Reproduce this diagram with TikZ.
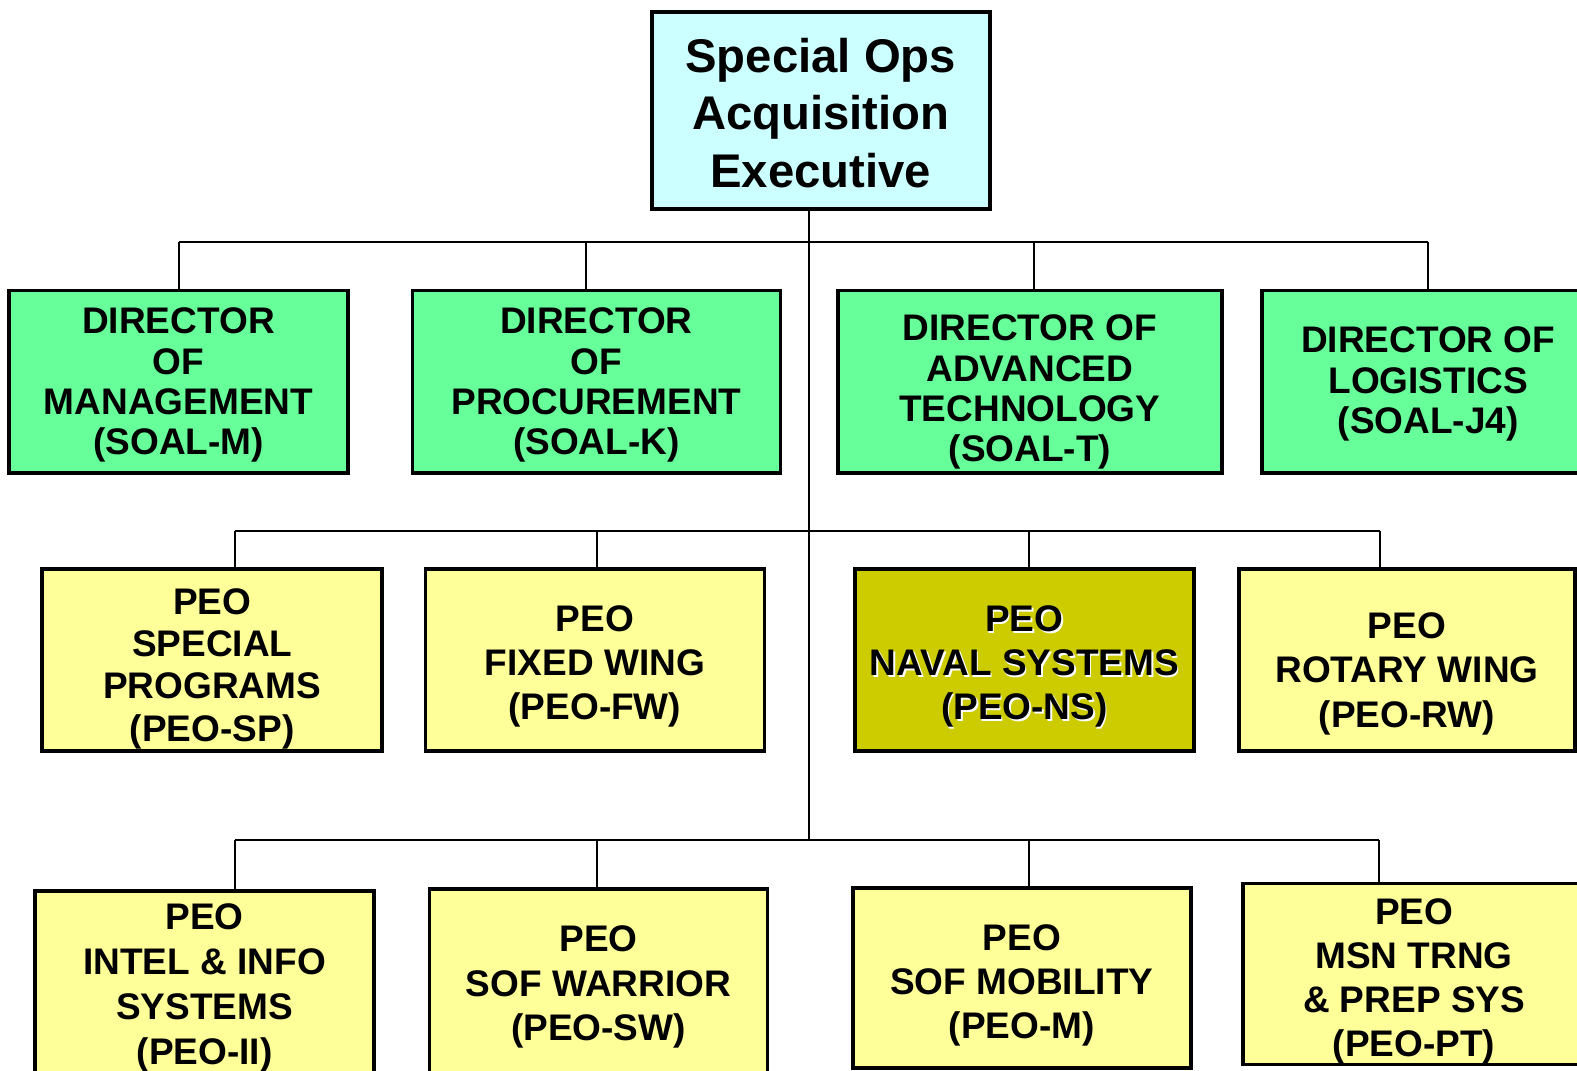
\documentclass[tikz,border=0pt]{standalone}
\usepackage{fontspec}
\setmainfont{Liberation Sans}
\definecolor{topfill}{HTML}{CCFFFF}
\definecolor{dirfill}{HTML}{66FF99}
\definecolor{peofill}{HTML}{FFFF99}
\definecolor{navfill}{HTML}{CCCC00}
\newcommand\myshift[1]{\vrule width0pt height\dimexpr 13.2pt+#1pt\relax}
\newcommand\myshiftbig[1]{\vrule width0pt height\dimexpr 17.2pt+#1pt\relax}
\begin{document}
\begin{tikzpicture}[x=0.5pt,y=-0.5pt,
  box/.style={draw=black, line width=1.8pt, inner sep=0pt, align=center,
    font=\fontsize{18.4pt}{20pt}\selectfont\bfseries},
  dirbox/.style={box, fill=dirfill, minimum height=90.5pt},
  peobox/.style={box, fill=peofill, minimum height=90.5pt,
    font=\fontsize{18.4pt}{22pt}\selectfont\bfseries},
  lowbox/.style={box, fill=peofill,
    font=\fontsize{18.4pt}{22pt}\selectfont\bfseries},
  topbox/.style={box, fill=topfill, line width=2pt,
    font=\fontsize{23.5pt}{28.5pt}\selectfont\bfseries},
  conn/.style={draw=black, line width=1pt},
  plain/.style={inner sep=0pt, align=center,
    font=\fontsize{18.4pt}{22pt}\selectfont\bfseries}
]
\useasboundingbox (0,0) rectangle (1568,1064);
\clip (0,0) rectangle (1568,1064);

% bus junctions
\coordinate (j1) at (804,241);
\coordinate (j2) at (804,528);
\coordinate (j3) at (804,835);

% top box and trunk
\node[topbox, minimum width=168pt, minimum height=98pt] (top) at (816,110)
  {\myshiftbig{2}Special Ops\\Acquisition\\Executive};
\draw[conn] (top.south -| j1) -- (j3);
\coordinate (b1l) at (178,241);
\coordinate (b1r) at (1420,241);
\draw[conn] (b1l) -- (b1r);
\coordinate (b2l) at (234,528);
\coordinate (b2r) at (1372,528);
\draw[conn] (b2l) -- (b2r);
\coordinate (b3l) at (234,835);
\coordinate (b3r) at (1371,835);
\draw[conn] (b3l) -- (b3r);

% directors
\node[dirbox, minimum width=168.5pt] (d1) at (177.5,379.5)
  {\myshift{3}DIRECTOR\\OF\\MANAGEMENT\\(SOAL-M)};
\node[dirbox, minimum width=183pt] (d2) at (593,379.5)
  {\myshift{3}DIRECTOR\\OF\\PROCUREMENT\\(SOAL-K)};
\node[dirbox, minimum width=191pt] (d3) at (1024,379.5)
  {\myshift{10}DIRECTOR OF\\ADVANCED\\TECHNOLOGY\\(SOAL-T)};
\node[dirbox, minimum width=165pt] (d4) at (1420,379.5)
  {\myshift{2}DIRECTOR OF\\LOGISTICS\\(SOAL-J4)};

\draw[conn] (b1l) -- (d1.north -| b1l);
\coordinate (k2) at (583,241);
\draw[conn] (k2) -- (d2.north -| k2);
\coordinate (k3) at (1028,241);
\draw[conn] (k3) -- (d3.north -| k3);
\draw[conn] (b1r) -- (d4.north -| b1r);

% PEO row 1
\node[peobox, minimum width=169pt, font=\fontsize{18.4pt}{21pt}\selectfont\bfseries] (p1) at (211,656.5)
  {\myshift{8}PEO\\SPECIAL\\PROGRAMS\\(PEO-SP)};
\node[peobox, minimum width=168.5pt] (p2) at (591.5,656.5)
  {\myshift{6}PEO\\FIXED WING\\(PEO-FW)};
\node[box, fill=navfill, minimum width=168.5pt, minimum height=90.5pt] (p3) at (1018.5,656.5) {};
\node[plain, text=white] (p3s) at ([shift={(1.6,1.6)}]p3.center)
  {\myshift{6}PEO\\NAVAL SYSTEMS\\(PEO-NS)};
\node[plain] (p3t) at (p3.center)
  {\myshift{6}PEO\\NAVAL SYSTEMS\\(PEO-NS)};
\node[peobox, minimum width=167pt] (p4) at (1399,656.5)
  {\myshift{13}PEO\\ROTARY WING\\(PEO-RW)};

\coordinate (m1) at (234,528);
\draw[conn] (m1) -- (p1.north -| m1);
\coordinate (m2) at (594,528);
\draw[conn] (m2) -- (p2.north -| m2);
\coordinate (m3) at (1023,528);
\draw[conn] (m3) -- (p3.north -| m3);
\coordinate (m4) at (1372,528);
\draw[conn] (m4) -- (p4.north -| m4);

% PEO row 2
\node[lowbox, minimum width=168.5pt, minimum height=93pt, font=\fontsize{18.4pt}{22.5pt}\selectfont\bfseries] (q1) at (203.5,979)
  {\myshift{3}PEO\\INTEL \& INFO\\SYSTEMS\\(PEO-II)};
\node[lowbox, minimum width=168pt, minimum height=93pt] (q2) at (595,977)
  {\myshift{4}PEO\\SOF WARRIOR\\(PEO-SW)};
\node[lowbox, minimum width=168pt, minimum height=89.5pt] (q3) at (1016,972.5)
  {\myshift{7}PEO\\SOF MOBILITY\\(PEO-M)};
\node[lowbox, minimum width=170pt, minimum height=89.5pt] (q4) at (1406,968.5)
  {\myshift{7}PEO\\MSN TRNG\\\& PREP SYS\\(PEO-PT)};

\coordinate (n1) at (234,835);
\draw[conn] (n1) -- (q1.north -| n1);
\coordinate (n2) at (594,835);
\draw[conn] (n2) -- (q2.north -| n2);
\coordinate (n3) at (1023,835);
\draw[conn] (n3) -- (q3.north -| n3);
\coordinate (n4) at (1371,835);
\draw[conn] (n4) -- (q4.north -| n4);
\end{tikzpicture}
\end{document}
